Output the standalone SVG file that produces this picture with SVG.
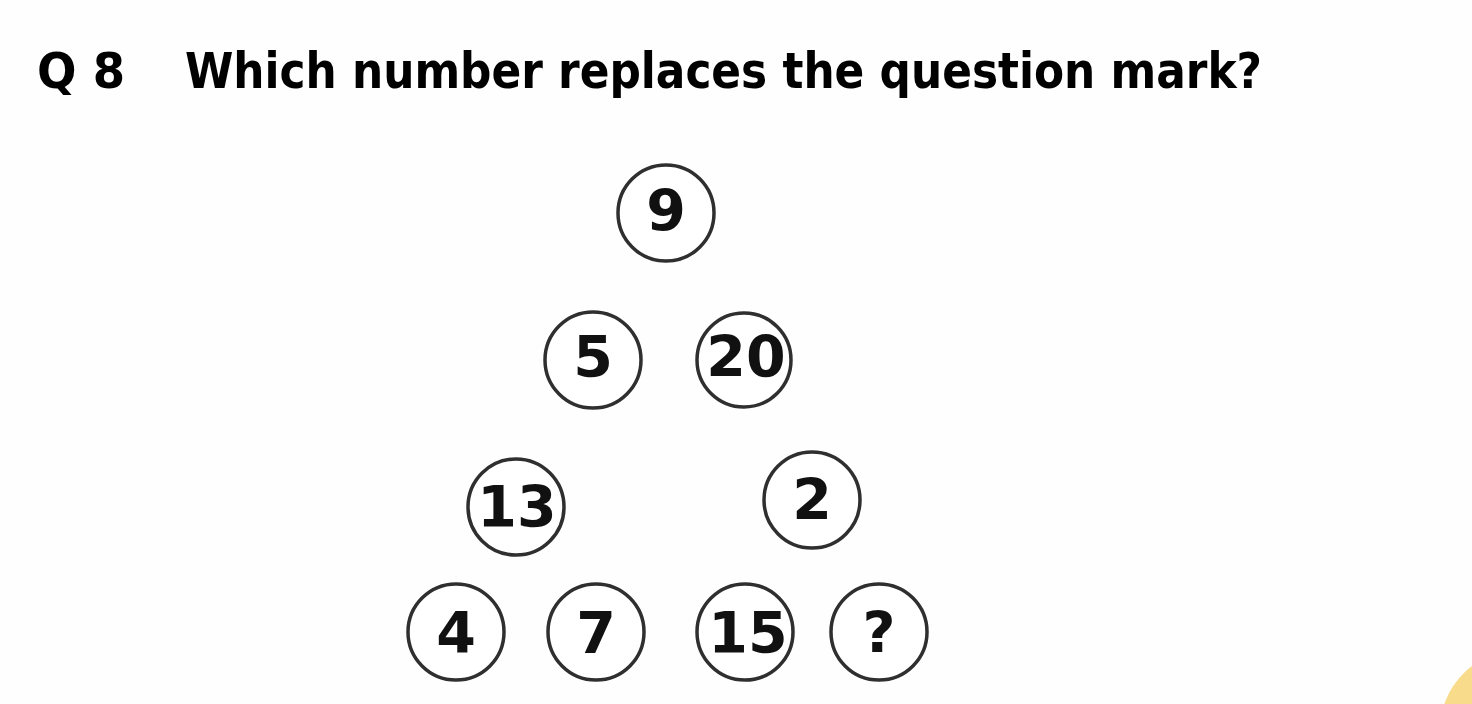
<svg xmlns="http://www.w3.org/2000/svg" width="1472" height="704" viewBox="0 0 1472 704">
<style>
.title{font-family:"DejaVu Sans Condensed","DejaVu Sans",sans-serif;font-weight:bold;font-size:50px;fill:#000}
.node circle{fill:#fff;stroke:#2f2f2f;stroke-width:3.5}
.node text{font-family:"DejaVu Sans","Liberation Sans",sans-serif;font-weight:bold;font-size:57px;fill:#111;text-anchor:middle}
</style>
<rect width="1472" height="704" fill="#fefefe"/>
<circle cx="1520" cy="730" r="80" fill="#f8dc8c"/>
<g id="title">
<text class="title" x="37" y="88" textLength="88" lengthAdjust="spacingAndGlyphs">Q 8</text>
<text class="title" x="185" y="88" textLength="1077" lengthAdjust="spacingAndGlyphs">Which number replaces the question mark?</text>
</g>
<g id="n9" class="node"><circle cx="666" cy="213" r="48"/><text x="666" y="231">9</text></g>
<g id="n5" class="node"><circle cx="593" cy="360" r="48"/><text x="593" y="377">5</text></g>
<g id="n20" class="node"><circle cx="744" cy="360" r="47"/><text x="746" y="377">20</text></g>
<g id="n13" class="node"><circle cx="516" cy="507" r="48"/><text x="517" y="527">13</text></g>
<g id="n2" class="node"><circle cx="812" cy="500" r="48"/><text x="812" y="520">2</text></g>
<g id="n4" class="node"><circle cx="456" cy="632" r="48"/><text x="456" y="653">4</text></g>
<g id="n7" class="node"><circle cx="596" cy="632" r="48"/><text x="596" y="653">7</text></g>
<g id="n15" class="node"><circle cx="745" cy="632" r="48"/><text x="748" y="653">15</text></g>
<g id="nq" class="node"><circle cx="879" cy="632" r="48"/><text x="879" y="653">?</text></g>
</svg>
